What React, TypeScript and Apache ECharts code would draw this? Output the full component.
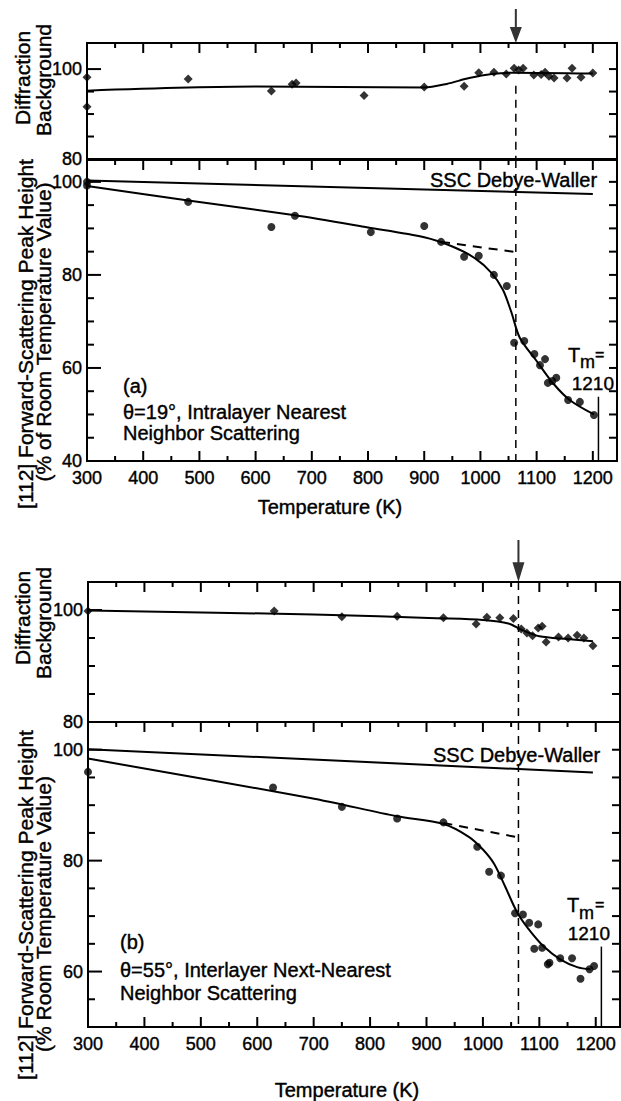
import React, { useEffect, useRef } from "react";
import * as echarts from "echarts";

// ---------- data ----------
const X_MIN = 300;
const X_MAX = 1243;
const X_LABELS = [300, 400, 500, 600, 700, 800, 900, 1000, 1100, 1200];
const X_MINOR_TICKS = [350, 450, 550, 650, 750, 850, 950, 1050, 1150];

const A_TOP_Y_LABELS = [80, 100];
const A_TOP_Y_MINOR = [85, 90, 95];
const A_TOP_Y_RIGHT = [85, 90, 95, 100];
const A_BOT_Y_LABELS = [40, 60, 80, 100];
const A_BOT_Y_MINOR = [45, 50, 55, 65, 70, 75, 85, 90, 95];
const A_BOT_Y_RIGHT = [45, 50, 55, 60, 65, 70, 75, 80, 85, 90, 95, 100];
const B_TOP_Y_LABELS = [80, 100];
const B_TOP_Y_MINOR = [85, 90, 95];
const B_TOP_Y_RIGHT = [85, 90, 95, 100];
const B_BOT_Y_LABELS = [60, 80, 100];
const B_BOT_Y_MINOR = [55, 65, 70, 75, 85, 90, 95];
const B_BOT_Y_RIGHT = [55, 60, 65, 70, 75, 80, 85, 90, 95, 100];

// panel (a) – diffraction background
const A_TOP_PTS = [
  [300, 98.2], [300, 91.6], [480, 97.8], [628, 95.1], [665, 96.6], [672, 96.9],
  [793, 94.1], [900, 96.0], [971, 96.2], [997, 99.2], [1024, 99.3], [1046, 98.9],
  [1060, 100.2], [1068, 99.8], [1076, 100.2], [1095, 98.7], [1108, 98.8], [1115, 99.3],
  [1122, 98.4], [1131, 98.0], [1154, 98.0], [1163, 100.2], [1179, 98.2], [1200, 99.1],
];
const A_TOP_FIT = [
  [300, 95.2], [600, 96.1], [900, 95.9], [940, 96.7], [980, 98.0], [1020, 98.9],
  [1060, 99.2], [1200, 99.0],
];
// panel (a) – forward scattering peak height
const A_BOT_PTS = [
  [300, 100.0], [300, 99.2], [480, 95.7], [628, 90.3], [670, 92.7], [805, 89.2],
  [900, 90.5], [930, 87.1], [971, 83.9], [997, 84.1], [1024, 80.0], [1047, 77.6],
  [1060, 65.4], [1078, 65.8], [1096, 63.0], [1106, 60.6], [1115, 61.9], [1120, 56.8],
  [1128, 57.2], [1135, 57.9], [1156, 53.1], [1177, 52.7], [1202, 49.9],
];
const A_BOT_FIT = [
  [300, 99.1], [480, 96.0], [670, 92.8], [800, 90.2], [900, 88.1], [950, 86.1],
  [990, 83.6], [1020, 80.4], [1040, 76.8], [1055, 72.0], [1070, 66.5], [1100, 61.5],
  [1130, 56.6], [1160, 53.0], [1202, 50.0],
];
const A_DW = [[300, 100.3], [1200, 97.4]];
const A_EXTRAP = [[930, 87.1], [1063, 84.9]];
const A_TM = [[1210, 53.8], [1210, 40]];
const A_VDASH_TOP = [[1063, 96.3], [1063, 80]];
const A_VDASH_BOT = [[1063, 104.7], [1063, 40]];
const A_ARROW = [[1063, 105.8]];

// panel (b) – diffraction background
const B_TOP_PTS = [
  [300, 99.8], [630, 99.8], [750, 98.8], [848, 98.9], [930, 98.6], [988, 97.5],
  [1007, 98.7], [1030, 98.6], [1054, 98.5], [1068, 96.6], [1078, 95.9], [1088, 95.4],
  [1098, 96.8], [1105, 97.1], [1112, 94.3], [1134, 95.2], [1151, 95.0], [1167, 95.5],
  [1179, 95.0], [1195, 93.6],
];
const B_TOP_FIT = [
  [300, 99.9], [700, 99.2], [930, 98.5], [1000, 98.2], [1045, 97.6], [1070, 96.4],
  [1100, 95.3], [1150, 94.8], [1195, 94.4],
];
// panel (b) – forward scattering peak height
const B_BOT_PTS = [
  [300, 96.0], [628, 93.2], [750, 89.7], [848, 87.6], [930, 86.9], [990, 82.5],
  [1011, 78.0], [1032, 77.3], [1057, 70.5], [1071, 70.3], [1082, 68.8], [1098, 68.5],
  [1091, 64.1], [1105, 64.3], [1115, 61.3], [1118, 61.6], [1137, 62.4], [1158, 62.4],
  [1173, 58.7], [1189, 60.4], [1197, 61.0],
];
const B_BOT_FIT = [
  [300, 98.4], [694, 91.3], [848, 88.0], [930, 86.6], [975, 84.3], [1000, 82.0],
  [1020, 79.4], [1040, 75.2], [1060, 70.8], [1080, 67.8], [1108, 64.5], [1137, 62.2],
  [1167, 60.8], [1191, 60.4],
];
const B_DW = [[300, 100.1], [1195, 95.9]];
const B_EXTRAP = [[930, 86.8], [1057, 84.3]];
const B_TM = [[1210, 64.5], [1210, 50]];
const B_VDASH_TOP = [[1063, 105], [1063, 80]];
const B_VDASH_BOT = [[1063, 105], [1063, 50]];
const B_ARROW = [[1063, 105]];

// ---------- styling / layout ----------
const FONT = '"Liberation Sans", Arial, Helvetica, sans-serif';
const INK = "#000";
const GRIDS = [
  { left: 87, top: 43, width: 530, height: 116 },
  { left: 87, top: 160, width: 530, height: 301 },
  { left: 88, top: 582, width: 532, height: 140 },
  { left: 88, top: 722, width: 532, height: 305 },
];
const Y_RANGES = [
  [80, 105.8],
  [40, 104.7],
  [80, 105],
  [50, 105],
];

const labelFont = {
  color: INK,
  fontSize: 18,
  fontFamily: FONT,
  textBorderColor: INK,
  textBorderWidth: 0.4,
};

function xAxis(grid: number, labels: boolean) {
  return {
    type: "value",
    gridIndex: grid,
    min: X_MIN,
    max: X_MAX,
    interval: 100,
    position: "bottom",
    splitLine: { show: false },
    axisLine: { show: true, onZero: false, lineStyle: { color: INK, width: 2 } },
    axisTick: { show: false },
    axisLabel: {
      show: labels,
      margin: 8,
      showMaxLabel: false,
      formatter: (v: number) => (X_LABELS.includes(v) ? String(v) : ""),
      ...labelFont,
    },
  };
}

function yAxis(grid: number, labels: number[]) {
  const [min, max] = Y_RANGES[grid];
  return {
    type: "value",
    gridIndex: grid,
    min,
    max,
    interval: 5,
    position: "left",
    splitLine: { show: false },
    axisLine: { show: true, onZero: false, lineStyle: { color: INK, width: 2 } },
    axisTick: { show: false },
    axisLabel: {
      show: true,
      margin: 5,
      showMaxLabel: false,
      formatter: (v: number) => (labels.includes(v) ? String(v) : ""),
      ...labelFont,
    },
  };
}

// tick marks: one two-point line series per tick, on the panel's own axes
function tickSeries(g: number, side: string, values: number[], lenPx: number) {
  const [ymin, ymax] = Y_RANGES[g];
  const { width, height } = GRIDS[g];
  const dy = (lenPx * (ymax - ymin)) / height;
  const dx = (lenPx * (X_MAX - X_MIN)) / width;
  return values.map((v) => {
    let data: number[][];
    if (side === "bottom") data = [[v, ymin], [v, ymin + dy]];
    else if (side === "top") data = [[v, ymax], [v, ymax - dy]];
    else if (side === "left") data = [[X_MIN, v], [X_MIN + dx, v]];
    else data = [[X_MAX, v], [X_MAX - dx, v]];
    return {
      type: "line",
      xAxisIndex: g,
      yAxisIndex: g,
      data,
      showSymbol: false,
      symbol: "none",
      silent: true,
      z: 5,
      lineStyle: { color: INK, width: 2 },
    };
  });
}

function frameTicks(g: number, bottom: boolean, yLabels: number[], yMinor: number[], yRight: number[]) {
  const list: any[] = [
    ...tickSeries(g, "top", X_LABELS, 10),
    ...tickSeries(g, "top", X_MINOR_TICKS, 5),
    ...tickSeries(g, "left", yLabels, 14),
    ...tickSeries(g, "left", yMinor, 7),
    ...tickSeries(g, "right", yRight, 8),
  ];
  if (bottom) {
    list.push(...tickSeries(g, "bottom", X_LABELS, 10));
    list.push(...tickSeries(g, "bottom", X_MINOR_TICKS, 5));
  }
  return list;
}

const ARROW_PATH = "path://M5,0 L7,0 L7,18 L12,18 L6,34 L0,18 L5,18 Z";

function panelSeries(g: number, d: any) {
  const ax = { xAxisIndex: g, yAxisIndex: g };
  const list: any[] = [];
  list.push({
    type: "scatter",
    ...ax,
    data: d.pts,
    symbol: d.symbol,
    symbolSize: d.symbolSize,
    itemStyle: { color: INK },
    silent: true,
  });
  list.push({
    type: "line",
    ...ax,
    data: d.fit,
    smooth: 0.3,
    showSymbol: false,
    symbol: "none",
    lineStyle: { color: INK, width: 2 },
    silent: true,
  });
  const simple = (data: any, width: number, type: any) => ({
    type: "line",
    ...ax,
    data,
    showSymbol: false,
    symbol: "none",
    lineStyle: { color: INK, width, type },
    silent: true,
  });
  if (d.dw) list.push(simple(d.dw, 2, "solid"));
  if (d.extrap) list.push(simple(d.extrap, 2, [9, 7]));
  if (d.tm) list.push(simple(d.tm, 1.5, "solid"));
  if (d.vdash) list.push(simple(d.vdash, 1.5, [8, 6]));
  if (d.arrow)
    list.push({
      type: "scatter",
      ...ax,
      data: d.arrow,
      symbol: ARROW_PATH,
      symbolSize: d.arrowSize,
      symbolKeepAspect: false,
      symbolOffset: [0, -d.arrowSize[1] / 2],
      clip: false,
      itemStyle: { color: INK },
      silent: true,
    });
  return list;
}

function txt(x: number, y: number, text: string, opts: any = {}) {
  return {
    type: "text",
    x,
    y,
    rotation: opts.rotation || 0,
    silent: true,
    style: {
      text,
      fill: INK,
      stroke: INK,
      lineWidth: 0.4,
      fontSize: opts.size || 20,
      fontFamily: FONT,
      align: opts.align || "left",
      textAlign: opts.align || "left",
      verticalAlign: "middle",
      textVerticalAlign: "middle",
    },
  };
}

function buildOption() {
  const R = Math.PI / 2;
  return {
    animation: false,
    backgroundColor: "#fff",
    grid: GRIDS.map((g) => ({
      ...g,
      containLabel: false,
      show: true,
      borderColor: INK,
      borderWidth: 2,
      backgroundColor: "transparent",
    })),
    xAxis: [xAxis(0, false), xAxis(1, true), xAxis(2, false), xAxis(3, true)],
    yAxis: [
      yAxis(0, A_TOP_Y_LABELS),
      yAxis(1, A_BOT_Y_LABELS),
      yAxis(2, B_TOP_Y_LABELS),
      yAxis(3, B_BOT_Y_LABELS),
    ],
    series: [
      ...frameTicks(0, false, A_TOP_Y_LABELS, A_TOP_Y_MINOR, A_TOP_Y_RIGHT),
      ...frameTicks(1, true, A_BOT_Y_LABELS, A_BOT_Y_MINOR, A_BOT_Y_RIGHT),
      ...frameTicks(2, false, B_TOP_Y_LABELS, B_TOP_Y_MINOR, B_TOP_Y_RIGHT),
      ...frameTicks(3, true, B_BOT_Y_LABELS, B_BOT_Y_MINOR, B_BOT_Y_RIGHT),
      ...panelSeries(0, {
        pts: A_TOP_PTS, fit: A_TOP_FIT, symbol: "diamond", symbolSize: 9,
        vdash: A_VDASH_TOP, arrow: A_ARROW, arrowSize: [12, 34],
      }),
      ...panelSeries(1, {
        pts: A_BOT_PTS, fit: A_BOT_FIT, symbol: "circle", symbolSize: 8,
        dw: A_DW, extrap: A_EXTRAP, tm: A_TM, vdash: A_VDASH_BOT,
      }),
      ...panelSeries(2, {
        pts: B_TOP_PTS, fit: B_TOP_FIT, symbol: "diamond", symbolSize: 9,
        vdash: B_VDASH_TOP, arrow: B_ARROW, arrowSize: [12, 42],
      }),
      ...panelSeries(3, {
        pts: B_BOT_PTS, fit: B_BOT_FIT, symbol: "circle", symbolSize: 8,
        dw: B_DW, extrap: B_EXTRAP, tm: B_TM, vdash: B_VDASH_BOT,
      }),
    ],
    graphic: {
      elements: [
        txt(22, 78, "Diffraction", { rotation: R, align: "center", size: 21 }),
        txt(43, 80, "Background", { rotation: R, align: "center", size: 21 }),
        txt(25, 334, "[112] Forward-Scattering Peak Height", { rotation: R, align: "center", size: 21 }),
        txt(43, 332, "(% of Room Temperature Value)", { rotation: R, align: "center", size: 21 }),
        txt(22, 618, "Diffraction", { rotation: R, align: "center", size: 21 }),
        txt(43, 623, "Background", { rotation: R, align: "center", size: 21 }),
        txt(25, 905, "[112] Forward-Scattering Peak Height", { rotation: R, align: "center", size: 21 }),
        txt(43, 914, "(% Room Temperature Value)", { rotation: R, align: "center", size: 21 }),
        txt(330, 507, "Temperature (K)", { align: "center" }),
        txt(347, 1090, "Temperature (K)", { align: "center" }),
        txt(430, 180, "SSC Debye-Waller"),
        txt(123, 386, "(a)"),
        txt(123, 412, "θ=19°, Intralayer Nearest"),
        txt(123, 433, "Neighbor Scattering"),
        txt(568, 355, "T"),
        txt(580, 362, "m", { size: 18 }),
        txt(595, 354, "=", { size: 16 }),
        txt(614, 383, "1210", { align: "right", size: 19 }),
        txt(433, 755, "SSC Debye-Waller"),
        txt(120, 942, "(b)"),
        txt(120, 970, "θ=55°, Interlayer Next-Nearest"),
        txt(120, 993, "Neighbor Scattering"),
        txt(567, 905, "T"),
        txt(579, 913, "m", { size: 18 }),
        txt(595, 904, "=", { size: 16 }),
        txt(610, 933, "1210", { align: "right", size: 19 }),
      ],
    },
  };
}

export default function App() {
  const ref = useRef<HTMLDivElement>(null);
  useEffect(() => {
    if (!ref.current) return;
    const chart = echarts.init(ref.current, null, { renderer: "svg" });
    chart.setOption(buildOption() as any);
    return () => chart.dispose();
  }, []);
  return (
    <div
      ref={ref}
      style={{ position: "absolute", left: 0, top: 0, width: 621, height: 1101, background: "#fff" }}
    />
  );
}
